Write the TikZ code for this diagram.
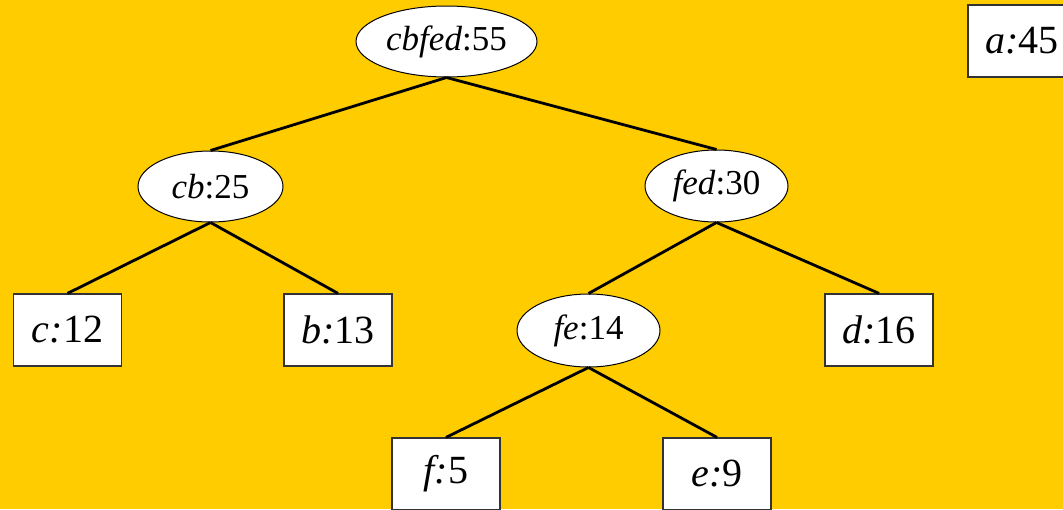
\documentclass[tikz,border=0pt]{standalone}
\usepackage{fontspec}
\setmainfont{Liberation Serif}
\usetikzlibrary{shapes.geometric}
\definecolor{bgyellow}{RGB}{255,204,0}
\tikzset{
  inner/.style={ellipse, draw=black, line width=1pt, fill=white, inner sep=0pt, font=\fontsize{35}{40}\selectfont},
  leaf/.style={rectangle, draw=black!80, line width=1.2pt, fill=white, inner sep=0pt, minimum width=108pt, minimum height=72pt, font=\fontsize{40}{46}\selectfont},
  edge/.style={draw=black, line width=2.8pt}
}
\begin{document}
\begin{tikzpicture}[x=1pt,y=-1pt]
\fill[bgyellow] (0,0) rectangle (1063,509);
\useasboundingbox (0,0) rectangle (1063,509);
\node[inner, minimum width=181pt, minimum height=71pt] (cbfed) at (446.5,41.5) {\textit{cbfed}:55};
\node[inner, minimum width=145pt, minimum height=71pt] (cb) at (210.5,186.5) {\textit{cb}:25};
\node[inner, minimum width=143pt, minimum height=72pt] (fed) at (716.5,186) {\textit{fed}:30};
\node[inner, minimum width=143pt, minimum height=73pt] (fe) at (588.5,330.5) {\textit{fe}:14};
\node[leaf] (a) at (1022,41) {\textit{a:}45};
\node[leaf] (c) at (67.5,330) {\textit{c:}12};
\node[leaf] (b) at (338,330) {\textit{b:}13};
\node[leaf] (d) at (879,330) {\textit{d:}16};
\node[leaf] (f) at (446,474) {\textit{f:}5};
\node[leaf] (e) at (717,474) {\textit{e:}9};
\draw[edge] (cbfed.south) -- (cb.north);
\draw[edge] (cbfed.south) -- (fed.north);
\draw[edge] (cb.south) -- (c.north);
\draw[edge] (cb.south) -- (b.north);
\draw[edge] (fed.south) -- (fe.north);
\draw[edge] (fed.south) -- (d.north);
\draw[edge] (fe.south) -- (f.north);
\draw[edge] (fe.south) -- (e.north);
\end{tikzpicture}
\end{document}
